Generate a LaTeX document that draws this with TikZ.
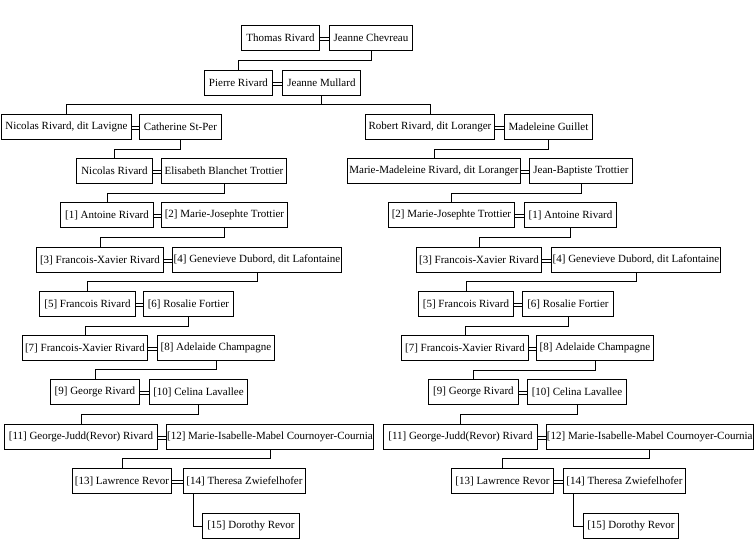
\documentclass[tikz,border=0pt]{standalone}
\usepackage{fontspec}
\setmainfont{Liberation Serif}
\usepackage{tikz}
\usetikzlibrary{positioning}

\begin{document}
\begin{tikzpicture}[x=1pt,y=-1pt,line width=0.9pt,
	person/.style={draw,anchor=north west,minimum height=25pt,inner xsep=0.5pt,inner ysep=0pt,font=\fontsize{11}{13}\selectfont},
	wed/.style={line width=0.9pt}]
	\useasboundingbox[fill=white] (0,0) rectangle (754,539);
	\node[person,minimum width=78pt] (thomas) at (241,25) {Thomas Rivard};
	\node[person,minimum width=83pt] (chevreau) at (329,25) {Jeanne Chevreau};
	\node[person,minimum width=68pt] (pierre) at (204,70) {Pierre Rivard};
	\node[person,minimum width=78pt] (mullard) at (282,70) {Jeanne Mullard};
	\node[person,minimum width=130pt] (lavigne) at (1,114) {Nicolas Rivard, dit Lavigne};
	\node[person,minimum width=82pt] (stper) at (139,114) {Catherine St-Per};
	\node[person,minimum width=76pt] (nicolas) at (76,158) {Nicolas Rivard};
	\node[person,minimum width=125pt] (elisabeth) at (161,158) {Elisabeth Blanchet Trottier};
	\node[person,minimum width=93pt] (la1) at (60,202) {[1] Antoine Rivard};
	\node[person,minimum width=126pt] (la2) at (161,202) {[2] Marie-Josephte Trottier};
	\node[person,minimum width=127pt] (la3) at (36,247) {[3] Francois-Xavier Rivard};
	\node[person,minimum width=169pt] (la4) at (172,247) {[4] Genevieve Dubord, dit Lafontaine};
	\node[person,minimum width=96pt] (la5) at (39,291) {[5] Francois Rivard};
	\node[person,minimum width=90pt] (la6) at (143,291) {[6] Rosalie Fortier};
	\node[person,minimum width=125pt] (la7) at (22,335) {[7] Francois-Xavier Rivard};
	\node[person,minimum width=117pt] (la8) at (157,335) {[8] Adelaide Champagne};
	\node[person,minimum width=89pt] (la9) at (50,379) {[9] George Rivard};
	\node[person,minimum width=98pt] (la10) at (149,379) {[10] Celina Lavallee};
	\node[person,minimum width=153pt] (la11) at (4,424) {[11] George-Judd(Revor) Rivard};
	\node[person,minimum width=207pt] (la12) at (166,424) {[12] Marie-Isabelle-Mabel Cournoyer-Cournia};
	\node[person,minimum width=99pt] (la13) at (72,468) {[13] Lawrence Revor};
	\node[person,minimum width=122pt] (la14) at (183,468) {[14] Theresa Zwiefelhofer};
	\node[person,minimum width=97pt] (la15) at (202,513) {[15] Dorothy Revor};
	\node[person,minimum width=129pt] (loranger) at (365,114) {Robert Rivard, dit Loranger};
	\node[person,minimum width=88pt] (guillet) at (504,114) {Madeleine Guillet};
	\node[person,minimum width=173pt] (mmadeleine) at (347,158) {Marie-Madeleine Rivard, dit Loranger};
	\node[person,minimum width=103pt] (jbaptiste) at (529,158) {Jean-Baptiste Trottier};
	\node[person,minimum width=126pt] (ra2) at (388,202) {[2] Marie-Josephte Trottier};
	\node[person,minimum width=92pt] (ra1) at (524,202) {[1] Antoine Rivard};
	\node[person,minimum width=125pt] (ra3) at (416,247) {[3] Francois-Xavier Rivard};
	\node[person,minimum width=169pt] (ra4) at (551,247) {[4] Genevieve Dubord, dit Lafontaine};
	\node[person,minimum width=95pt] (ra5) at (418,291) {[5] Francois Rivard};
	\node[person,minimum width=91pt] (ra6) at (522,291) {[6] Rosalie Fortier};
	\node[person,minimum width=127pt] (ra7) at (401,335) {[7] Francois-Xavier Rivard};
	\node[person,minimum width=117pt] (ra8) at (536,335) {[8] Adelaide Champagne};
	\node[person,minimum width=90pt] (ra9) at (428,379) {[9] George Rivard};
	\node[person,minimum width=99pt] (ra10) at (527,379) {[10] Celina Lavallee};
	\node[person,minimum width=154pt] (ra11) at (383,424) {[11] George-Judd(Revor) Rivard};
	\node[person,minimum width=206pt] (ra12) at (546,424) {[12] Marie-Isabelle-Mabel Cournoyer-Cournia};
	\node[person,minimum width=102pt] (ra13) at (451,468) {[13] Lawrence Revor};
	\node[person,minimum width=122pt] (ra14) at (563,468) {[14] Theresa Zwiefelhofer};
	\node[person,minimum width=95pt] (ra15) at (583,513) {[15] Dorothy Revor};
	\foreach \h/\w in {thomas/chevreau,pierre/mullard,lavigne/stper,nicolas/elisabeth,la1/la2,la3/la4,la5/la6,la7/la8,la9/la10,la11/la12,la13/la14,loranger/guillet,mmadeleine/jbaptiste,ra2/ra1,ra3/ra4,ra5/ra6,ra7/ra8,ra9/ra10,ra11/ra12,ra13/ra14}{
		\draw[wed] ([yshift=1pt]\h.east) -- ([yshift=1pt]\w.west);
		\draw[wed] ([yshift=-2pt]\h.east) -- ([yshift=-2pt]\w.west);
	}
	\draw (chevreau.south) -- ++(0,10) -| (pierre.north);
	\draw (mullard.south) -- ++(0,9) coordinate (split);
	\draw (split) -| (lavigne.north);
	\draw (split) -| (loranger.north);
	\draw (stper.south) -- ++(0,10) -| (nicolas.north);
	\draw (elisabeth.south) -- ++(0,10) -| (la1.north);
	\draw (la2.south) -- ++(0,10) -| (la3.north);
	\draw (la4.south) -- ++(0,9) -| (la5.north);
	\draw (la6.south) -- ++(0,10) -| (la7.north);
	\draw (la8.south) -- ++(0,9) -| (la9.north);
	\draw (la10.south) -- ++(0,10) -| (la11.north);
	\draw (la12.south) -- ++(0,9) -| (la13.north);
	\draw ([xshift=10pt]la14.south west) |- (la15.west);
	\draw (guillet.south) -- ++(0,10) -| (mmadeleine.north);
	\draw (jbaptiste.south) -- ++(0,10) -| (ra2.north);
	\draw (ra1.south) -- ++(0,10) -| (ra3.north);
	\draw (ra4.south) -- ++(0,9) -| (ra5.north);
	\draw (ra6.south) -- ++(0,10) -| (ra7.north);
	\draw (ra8.south) -- ++(0,10) -| (ra9.north);
	\draw (ra10.south) -- ++(0,10) -| (ra11.north);
	\draw (ra12.south) -- ++(0,9) -| (ra13.north);
	\draw ([xshift=10pt]ra14.south west) |- (ra15.west);
\end{tikzpicture}
\end{document}
